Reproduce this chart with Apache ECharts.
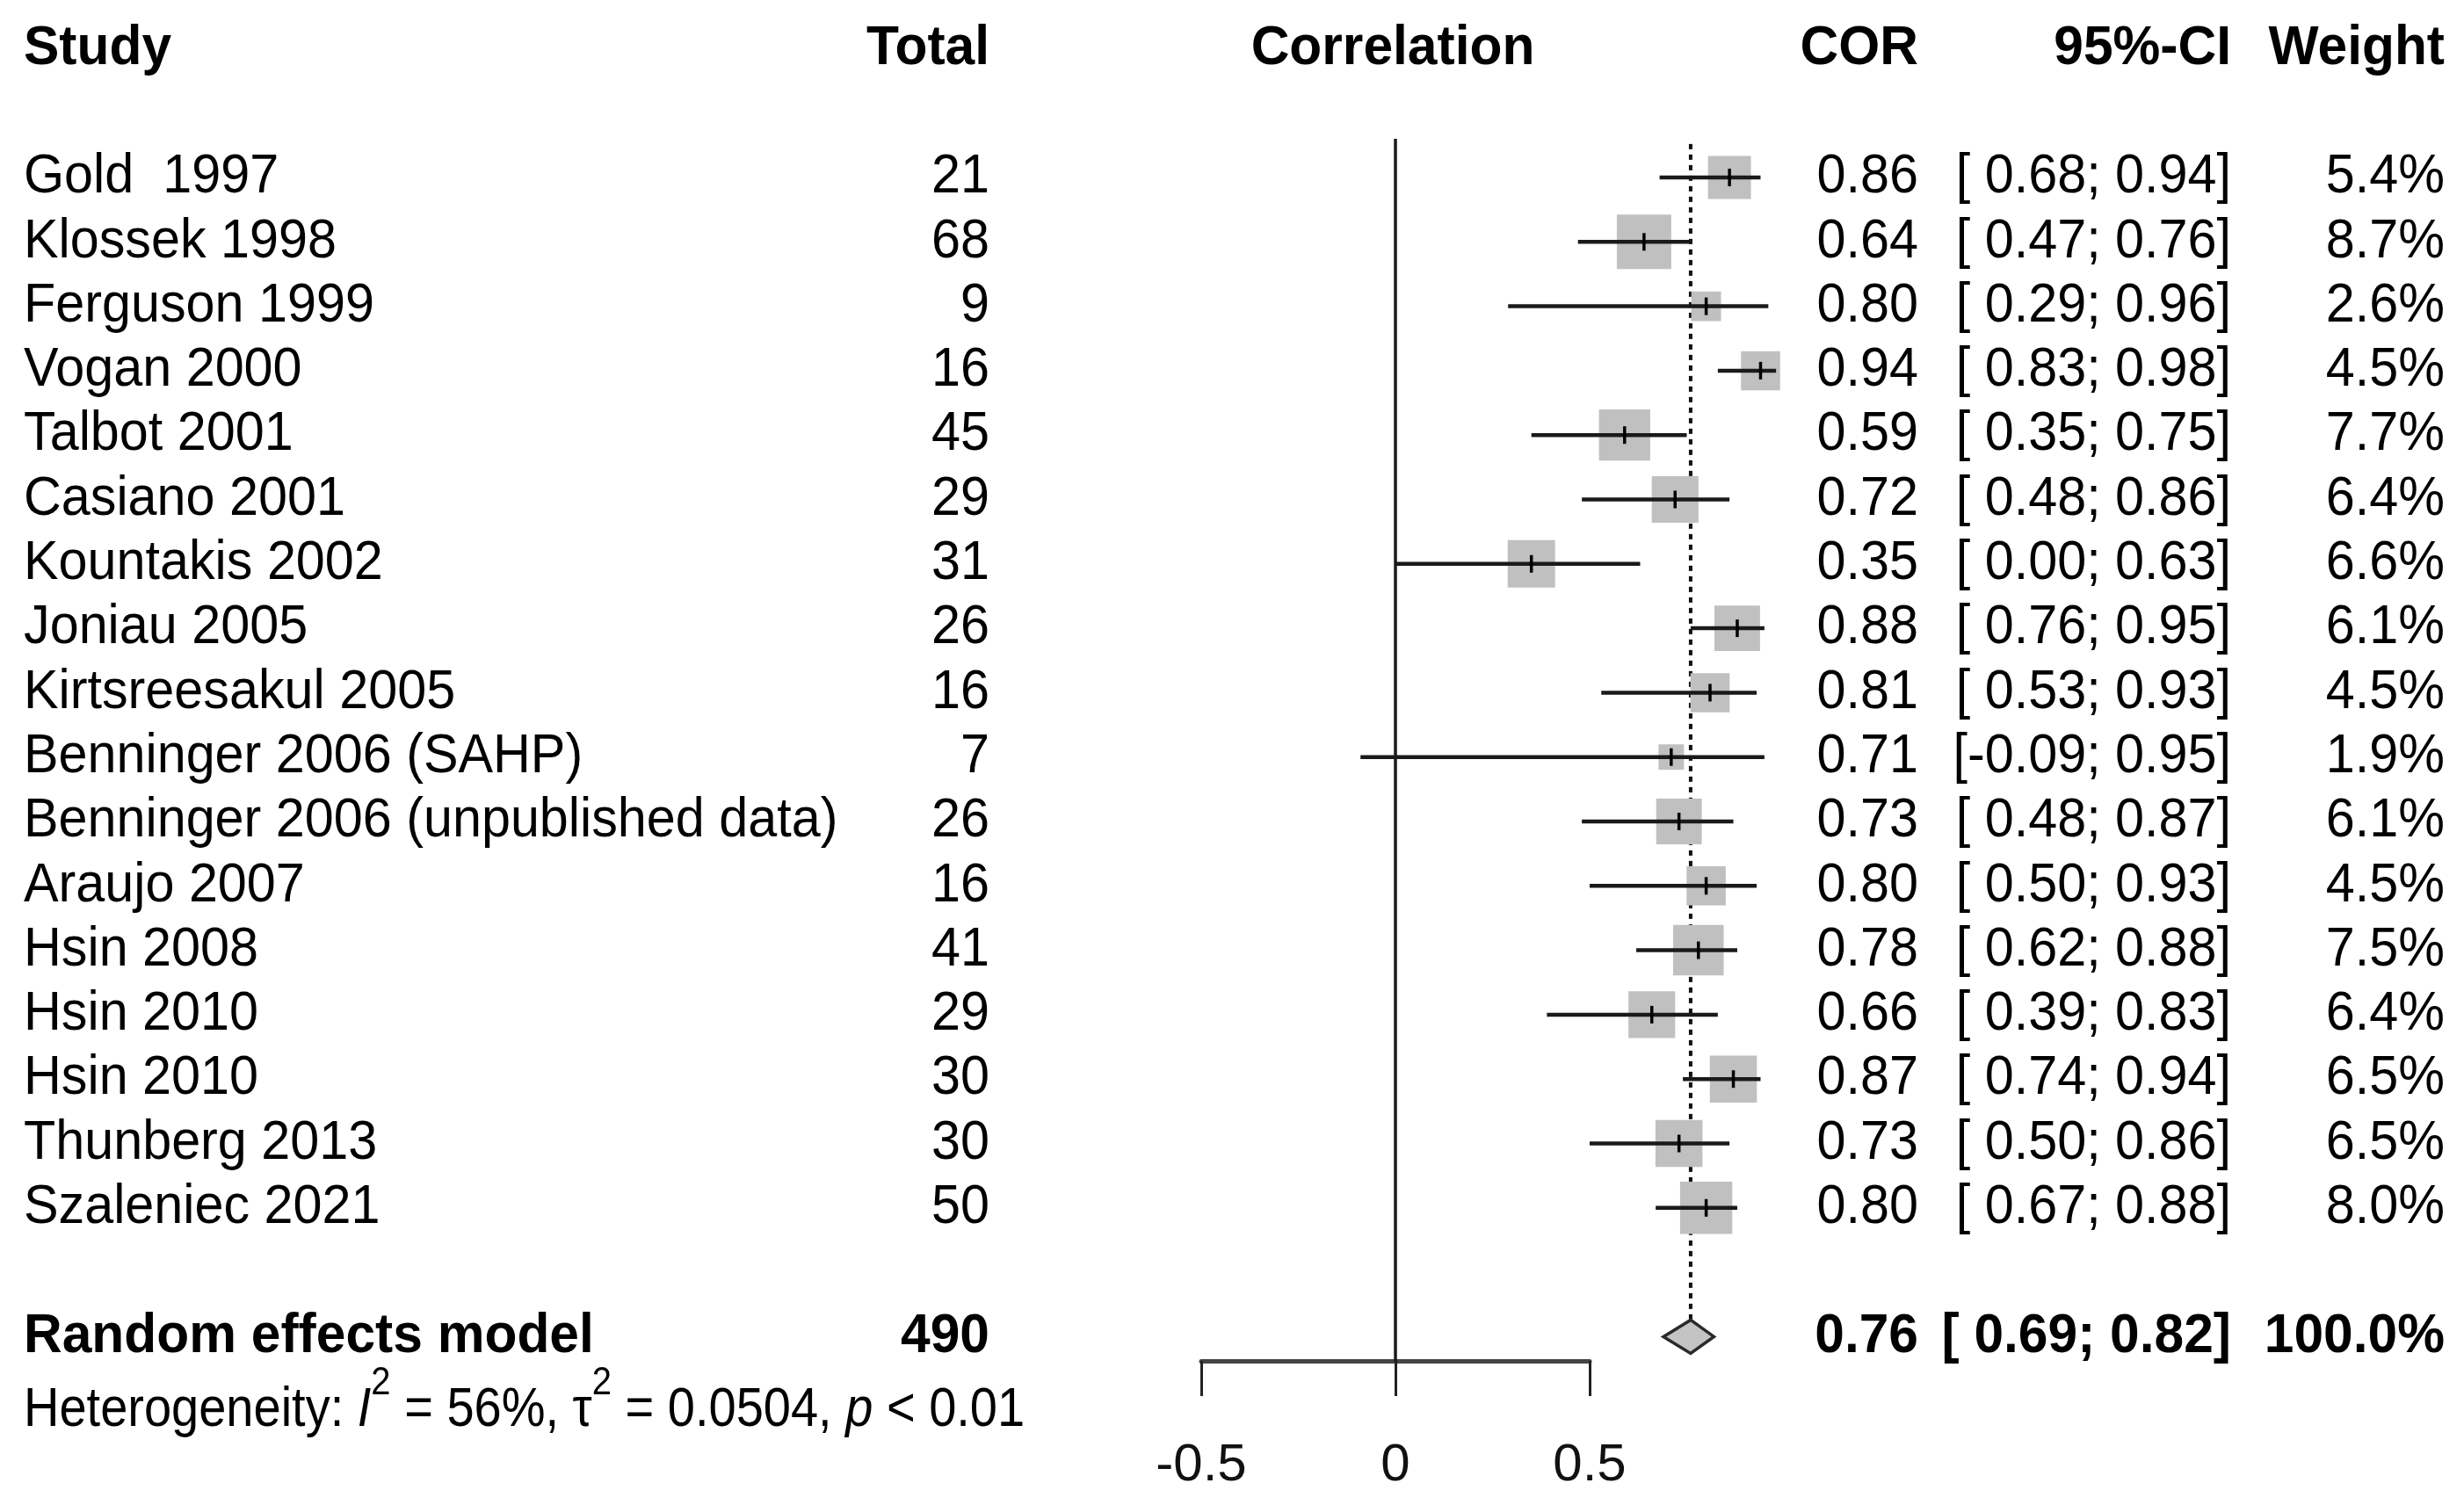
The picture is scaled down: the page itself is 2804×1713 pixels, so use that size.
<!DOCTYPE html>
<html><head><meta charset="utf-8">
<script src="https://cdn.jsdelivr.net/npm/echarts@6/dist/echarts.min.js"></script>
<style>html,body{margin:0;padding:0;background:#fff}#c{width:2804px;height:1713px}</style>
</head><body><div id="c"></div>
<script>
// ---------- data ----------
const studies = ["Gold  1997", "Klossek 1998", "Ferguson 1999", "Vogan 2000", "Talbot 2001", "Casiano 2001", "Kountakis 2002", "Joniau 2005", "Kirtsreesakul 2005", "Benninger 2006 (SAHP)", "Benninger 2006 (unpublished data)", "Araujo 2007", "Hsin 2008", "Hsin 2010", "Hsin 2010", "Thunberg 2013", "Szaleniec 2021"];
const totals = [21, 68, 9, 16, 45, 29, 31, 26, 16, 7, 26, 16, 41, 29, 30, 30, 50];
const cor = [0.86, 0.64, 0.80, 0.94, 0.59, 0.72, 0.35, 0.88, 0.81, 0.71, 0.73, 0.80, 0.78, 0.66, 0.87, 0.73, 0.80];
const lower = [0.68, 0.47, 0.29, 0.83, 0.35, 0.48, 0.00, 0.76, 0.53, -0.09, 0.48, 0.50, 0.62, 0.39, 0.74, 0.50, 0.67];
const upper = [0.94, 0.76, 0.96, 0.98, 0.75, 0.86, 0.63, 0.95, 0.93, 0.95, 0.87, 0.93, 0.88, 0.83, 0.94, 0.86, 0.88];
const weights = [5.4, 8.7, 2.6, 4.5, 7.7, 6.4, 6.6, 6.1, 4.5, 1.9, 6.1, 4.5, 7.5, 6.4, 6.5, 6.5, 8.0];
const pooledLabel = "Random effects model";
const pooledTotal = 490;
const pooledCor = 0.76;
const pooledLower = 0.69;
const pooledUpper = 0.82;
const pooledWeight = 100.0;
const hetI2 = "56%";
const hetTau2 = "0.0504";
const hetP = "< 0.01";
const headers = ["Study", "Total", "Correlation", "COR", "95%-CI", "Weight"];
const xTicks = [-0.5, 0, 0.5];

// ---------- layout / style ----------
const FONT = "'Liberation Sans', Arial, Helvetica, sans-serif";
const FS = 59.3, SY = 1.057;      // regular text
const FSB = 60.5, SYB = 1.036;    // bold text
const HFS = 56, HSY = 1.13;       // heterogeneity line
const COL = { study: 27, total: 1126, corr: 1585, cor: 2183, ci: 2539, weight: 2782 };
const ROW_HEADER = -2, ROW_POOLED = 18, ROW_HET = 19.15;
const SQ_K = 21;            // square side per sqrt(weight %)
const DIA_H = 19;           // diamond half height (px)
const LINE_TOP = -0.6;      // reference lines start (row units)
const AXIS_ROW = 18.38;

function pad(v) { return (v < 0 ? "" : " ") + v.toFixed(2); }
function ciText(lo, hi) { return "[" + pad(lo) + ";" + pad(hi) + "]"; }

function txt(x, y, s, align, bold) {
  return {
    type: "text", x: x, y: y, scaleY: bold ? SYB : SY,
    style: { text: s, fontSize: bold ? FSB : FS, fontFamily: FONT, fontWeight: bold ? "bold" : "normal",
             fill: "#000", align: align, verticalAlign: "middle" }
  };
}

const chart = echarts.init(document.getElementById("c"));
chart.setOption({
  animation: false,
  backgroundColor: "#fff",
  grid: [
    { left: 1367, width: 663, top: 55.4, height: 1539.3 },
    { left: 1367, width: 442, top: 1500, height: 49 }
  ],
  xAxis: [
    { gridIndex: 0, type: "value", min: -0.5, max: 1.0, show: false },
    { gridIndex: 1, type: "value", min: -0.5, max: 0.5, interval: 0.5, position: "bottom",
      axisLine: { show: true, lineStyle: { color: "#444", width: 5 } },
      axisTick: { show: true, length: 40, lineStyle: { color: "#222", width: 3 } },
      axisLabel: { fontSize: 60, fontFamily: FONT, color: "#111", margin: 89,
                   customValues: xTicks, formatter: v => String(v) },
      splitLine: { show: false } }
  ],
  yAxis: [
    { gridIndex: 0, type: "value", min: -2, max: 19, inverse: true, show: false },
    { gridIndex: 1, type: "value", min: 0, max: 1, show: false }
  ],
  series: [
    // reference lines
    {
      type: "custom", xAxisIndex: 0, yAxisIndex: 0, silent: true,
      data: [[0]],
      renderItem: function (params, api) {
        const z0 = api.coord([0, LINE_TOP]), z1 = api.coord([0, AXIS_ROW]);
        const m0 = api.coord([pooledCor, LINE_TOP + 0.08]), m1 = api.coord([pooledCor, ROW_POOLED]);
        return { type: "group", children: [
          { type: "line", shape: { x1: z0[0], y1: z0[1], x2: z1[0], y2: z1[1] },
            style: { stroke: "#1a1a1a", lineWidth: 3.5 } },
          { type: "line", shape: { x1: m0[0], y1: m0[1], x2: m1[0], y2: m1[1] - DIA_H },
            style: { stroke: "#111", lineWidth: 4, lineDash: [6, 6] } }
        ]};
      }
    },
    // study squares + CIs
    {
      type: "custom", xAxisIndex: 0, yAxisIndex: 0, silent: true,
      data: cor.map((c, i) => [c, i, lower[i], upper[i], weights[i]]),
      renderItem: function (params, api) {
        const r = api.value(1);
        const c = api.coord([api.value(0), r]);
        const lo = api.coord([api.value(2), r]);
        const hi = api.coord([api.value(3), r]);
        const s = SQ_K * Math.sqrt(api.value(4));
        return { type: "group", children: [
          { type: "rect", shape: { x: c[0] - s / 2, y: c[1] - s / 2, width: s, height: s },
            style: { fill: "#c0c0c0" } },
          { type: "line", shape: { x1: lo[0], y1: lo[1], x2: hi[0], y2: hi[1] },
            style: { stroke: "#1a1a1a", lineWidth: 4.5 } },
          { type: "line", shape: { x1: c[0], y1: c[1] - 10, x2: c[0], y2: c[1] + 10 },
            style: { stroke: "#000", lineWidth: 3.5 } }
        ]};
      }
    },
    // pooled diamond
    {
      type: "custom", xAxisIndex: 0, yAxisIndex: 0, silent: true,
      data: [[pooledCor, ROW_POOLED, pooledLower, pooledUpper]],
      renderItem: function (params, api) {
        const r = api.value(1);
        const c = api.coord([api.value(0), r]);
        const lo = api.coord([api.value(2), r]);
        const hi = api.coord([api.value(3), r]);
        return { type: "polygon",
          shape: { points: [[lo[0], lo[1]], [c[0], c[1] - DIA_H], [hi[0], hi[1]], [c[0], c[1] + DIA_H]] },
          style: { fill: "#c4c4c4", stroke: "#2a2a2a", lineWidth: 3.5 } };
      }
    },
    // study table text
    {
      type: "custom", xAxisIndex: 0, yAxisIndex: 0, silent: true,
      data: studies.map((s, i) => [0, i]),
      renderItem: function (params, api) {
        const i = params.dataIndex;
        const y = api.coord([0, api.value(1)])[1];
        return { type: "group", children: [
          txt(COL.study, y, studies[i], "left", false),
          txt(COL.total, y, String(totals[i]), "right", false),
          txt(COL.cor, y, cor[i].toFixed(2), "right", false),
          txt(COL.ci, y, ciText(lower[i], upper[i]), "right", false),
          txt(COL.weight, y, weights[i].toFixed(1) + "%", "right", false)
        ]};
      }
    },
    // headers, pooled row, heterogeneity
    {
      type: "custom", xAxisIndex: 0, yAxisIndex: 0, silent: true,
      data: [[0, ROW_HEADER, ROW_POOLED, ROW_HET]],
      renderItem: function (params, api) {
        const yh = api.coord([0, api.value(1)])[1];
        const yp = api.coord([0, api.value(2)])[1];
        const yt = api.coord([0, api.value(3)])[1];
        const het = {
          type: "text", x: COL.study, y: yt, scaleY: HSY,
          style: {
            text: "{n|Heterogeneity: }{i|I}{s|2}{n| = " + hetI2 + ", τ}{s|2}{n| = " + hetTau2 + ", }{i|p}{n| " + hetP + "}",
            align: "left", verticalAlign: "middle", fill: "#000", fontFamily: FONT, fontSize: HFS,
            rich: {
              n: { fontSize: HFS, fontFamily: FONT, lineHeight: 96, fill: "#000" },
              i: { fontSize: HFS, fontFamily: FONT, fontStyle: "italic", lineHeight: 96, fill: "#000" },
              s: { fontSize: 40, fontFamily: FONT, verticalAlign: "top", lineHeight: 96, fill: "#000" }
            }
          }
        };
        return { type: "group", children: [
          txt(COL.study, yh, headers[0], "left", true),
          txt(COL.total, yh, headers[1], "right", true),
          txt(COL.corr, yh, headers[2], "center", true),
          txt(COL.cor, yh, headers[3], "right", true),
          txt(COL.ci, yh, headers[4], "right", true),
          txt(COL.weight, yh, headers[5], "right", true),
          txt(COL.study, yp, pooledLabel, "left", true),
          txt(COL.total, yp, String(pooledTotal), "right", true),
          txt(COL.cor, yp, pooledCor.toFixed(2), "right", true),
          txt(COL.ci, yp, ciText(pooledLower, pooledUpper), "right", true),
          txt(COL.weight, yp, pooledWeight.toFixed(1) + "%", "right", true),
          het
        ]};
      }
    },
    { type: "scatter", xAxisIndex: 1, yAxisIndex: 1, data: [], silent: true }
  ]
});
</script>
</body></html>
